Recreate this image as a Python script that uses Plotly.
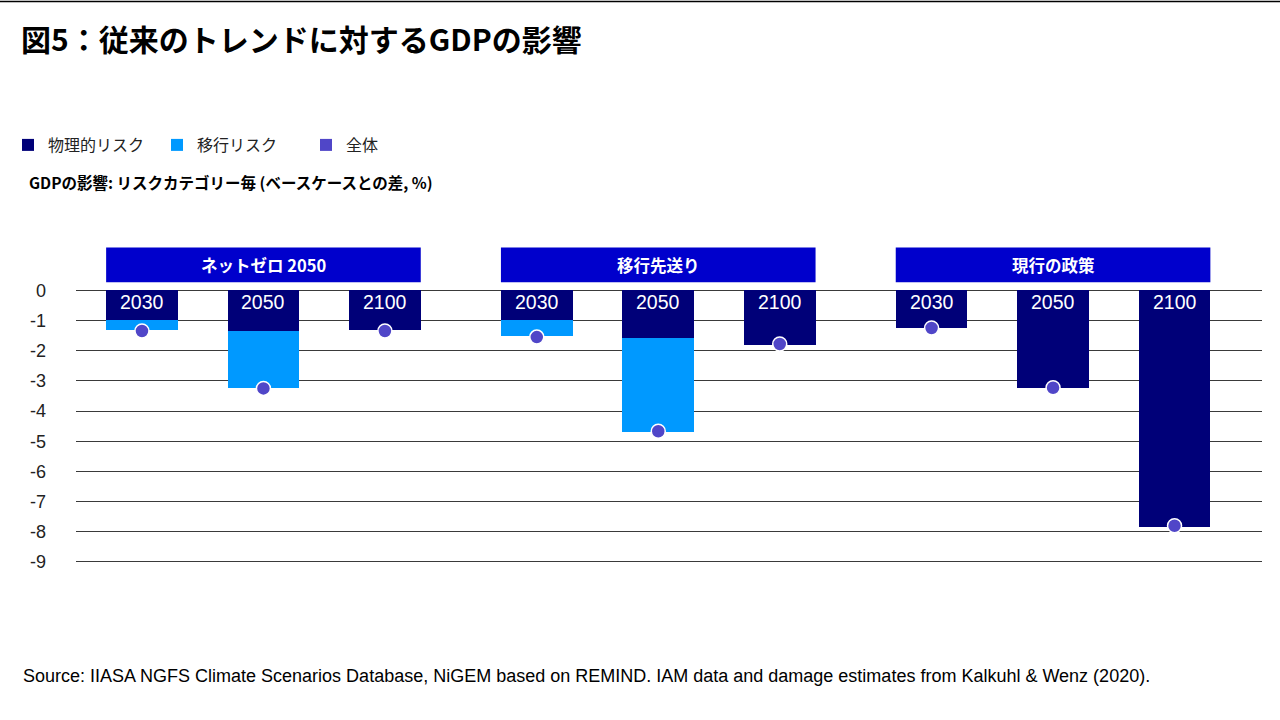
import plotly.graph_objects as go

# ---- data ----
scenarios = ["ネットゼロ 2050", "移行先送り", "現行の政策"]
years = ["2030", "2050", "2100"]
physical = [-1.00, -1.35, -1.33, -1.00, -1.58, -1.80, -1.25, -3.23, -7.84]
transition = [-0.30, -1.90, 0.00, -0.50, -3.12, 0.00, 0.00, 0.00, 0.00]
total = [-1.35, -3.25, -1.35, -1.55, -4.67, -1.78, -1.25, -3.23, -7.80]
y_ticks = [0, -1, -2, -3, -4, -5, -6, -7, -8, -9]

GROUP_STEP = 3.25
BAR_W = 0.59

xpos = []
labels = []
for g, s in enumerate(scenarios):
    for i, yr in enumerate(years):
        xpos.append(g * GROUP_STEP + i)
        labels.append(yr)

C_PHYS = "#000078"
C_TRANS = "#0099FF"
C_TOT = "#5046C8"
C_HEAD = "#0000CC"

W, H = 1280, 720
L, R, T, B = 76, 18, 245, 155
pw, ph = W - L - R, H - T - B


def px(xp):
    return (xp - L) / pw


def py(yp):
    return (H - B - yp) / ph


JP = "Noto Sans CJK JP"
AR = "Liberation Sans, Arial"

fig = go.Figure()
fig.add_trace(go.Bar(x=xpos, y=physical, width=BAR_W, name="物理的リスク",
                     marker=dict(color=C_PHYS, line=dict(width=0))))
fig.add_trace(go.Bar(x=xpos, y=transition, width=BAR_W, name="移行リスク",
                     marker=dict(color=C_TRANS, line=dict(width=0))))
fig.add_trace(go.Bar(x=[None], y=[None], name="全体",
                     marker=dict(color=C_TOT, line=dict(width=0))))
fig.add_trace(go.Scatter(x=xpos, y=total, mode="markers", name="全体", showlegend=False,
                         marker=dict(color=C_TOT, size=14, line=dict(color="white", width=1.5))))

shapes = []
annotations = []
for g, s in enumerate(scenarios):
    x0 = g * GROUP_STEP - BAR_W / 2
    x1 = g * GROUP_STEP + 2 + BAR_W / 2
    shapes.append(dict(type="rect", xref="x", yref="y", x0=x0, x1=x1, y0=0.265, y1=1.42,
                       fillcolor=C_HEAD, line=dict(width=0), layer="above"))
    annotations.append(dict(x=(x0 + x1) / 2, y=0.84, xref="x", yref="y", text="<b>%s</b>" % s,
                            showarrow=False, font=dict(family=JP, size=16.5, color="white"),
                            xanchor="center", yanchor="middle"))

for x, lab in zip(xpos, labels):
    annotations.append(dict(x=x, y=-0.4, xref="x", yref="y", text=lab, showarrow=False,
                            font=dict(family=AR, size=19.5, color="white"),
                            xanchor="center", yanchor="middle"))

# top rule
shapes.append(dict(type="line", xref="paper", yref="paper", x0=px(0), x1=px(1280),
                   y0=py(1.5), y1=py(1.5), line=dict(color="black", width=1.5)))

annotations.append(dict(x=px(19), y=py(38), xref="paper", yref="paper",
                        text="<b>図5：従来のトレンドに対するGDPの影響</b>", showarrow=False,
                        xanchor="left", yanchor="middle",
                        font=dict(family=JP, size=30, color="black")))
annotations.append(dict(x=px(27), y=py(182), xref="paper", yref="paper",
                        text="<b>GDPの影響: リスクカテゴリー毎 (ベースケースとの差, %)</b>", showarrow=False,
                        xanchor="left", yanchor="middle",
                        font=dict(family=JP, size=15.5, color="black")))
annotations.append(dict(x=px(21), y=py(676), xref="paper", yref="paper",
                        text="Source: IIASA NGFS Climate Scenarios Database, NiGEM based on REMIND. IAM data and damage estimates from Kalkuhl &amp; Wenz (2020).",
                        showarrow=False, xanchor="left", yanchor="middle",
                        font=dict(family=AR, size=18, color="black")))

fig.update_layout(
    width=W, height=H, autosize=False,
    margin=dict(l=L, r=R, t=T, b=B, pad=0, autoexpand=False),
    plot_bgcolor="white", paper_bgcolor="white",
    barmode="relative", bargap=0,
    showlegend=True,
    legend=dict(orientation="h", x=px(8), y=py(145), xanchor="left", yanchor="middle",
                xref="paper", yref="paper",
                font=dict(family=JP, size=16, color="#222"),
                entrywidth=104, entrywidthmode="pixels",
                traceorder="normal", bgcolor="rgba(0,0,0,0)"),
    xaxis=dict(range=[-0.543, 9.22], showgrid=False, zeroline=False, showticklabels=False,
               showline=False, ticks="", fixedrange=True, automargin=False),
    yaxis=dict(range=[-9.1, 1.5], tickvals=y_ticks, ticktext=[str(v) for v in y_ticks],
               showgrid=True, gridcolor="#3a3a3a", gridwidth=1, zeroline=False,
               showline=False, ticks="", ticklabelstandoff=29, automargin=False,
               tickfont=dict(family=AR, size=18, color="#222")),
    shapes=shapes,
    annotations=annotations,
)

fig.write_html("out.html", config={"displayModeBar": False},
               post_script="document.body.style.margin='0';document.body.style.padding='0';")
